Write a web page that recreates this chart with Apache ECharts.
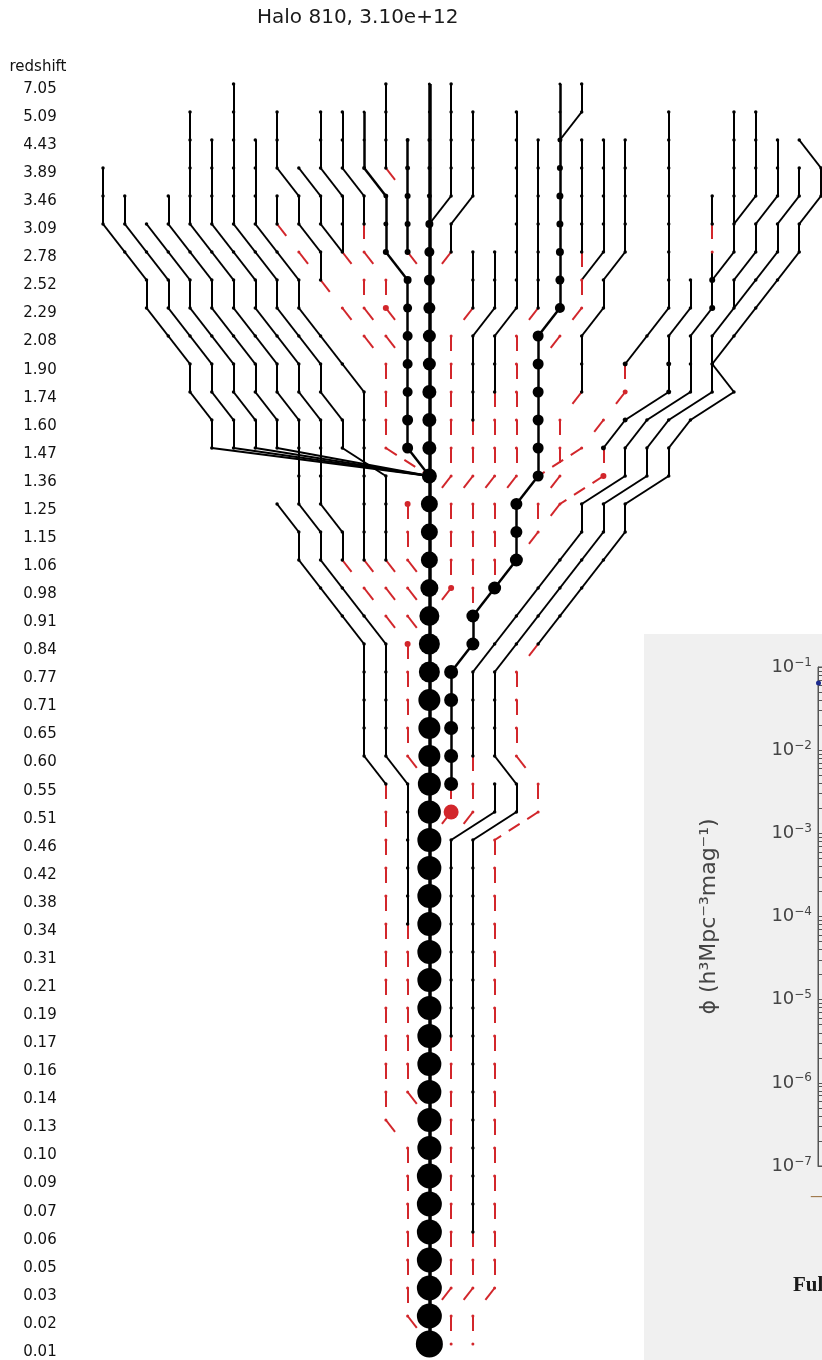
<!DOCTYPE html>
<html>
<head>
<meta charset="utf-8">
<script src="https://cdn.jsdelivr.net/npm/echarts@6/dist/echarts.min.js"></script>
<style>
html, body { margin: 0; padding: 0; background: #ffffff; }
#chart { width: 822px; height: 1360px; }
</style>
</head>
<body>
<div id="chart"></div>
<script>
// Snapshot redshifts, one per row of the tree (top = earliest)
const redshifts = ['7.05','5.09','4.43','3.89','3.46','3.09','2.78','2.52','2.29','2.08','1.90','1.74','1.60','1.47','1.36','1.25','1.15','1.06','0.98','0.91','0.84','0.77','0.71','0.65','0.60','0.55','0.51','0.46','0.42','0.38','0.34','0.31','0.21','0.19','0.17','0.16','0.14','0.13','0.10','0.09','0.07','0.06','0.05','0.03','0.02','0.01'];

// Each branch: first snapshot, layout column of its node at every snapshot,
// ink per node (k = solid black, r = dashed red) and optional halo mass (1e10 Msun).
const mainBranch = {
  from: 0,
  cols: [15,15,15,15,15,15,15,15,15,15, 15,15,15,15,15,15,15,15,15,15, 15,15,15,15,15,15,15,15,15,15, 15,15,15,15,15,15,15,15,15,15, 15,15,15,15,15,15],
  ink: 'kkkkkkkkkk' + 'kkkkkkkkkk' + 'kkkkkkkkkk' + 'kkkkkkkkkk' + 'kkkkkk',
  mass: [0.42,0.42,1,1,1.95, 8,15.6,20.8,27,34.3,34.3,42.9,42.9,42.9,52.7, 76.8,76.8,76.8,91,125,145,145,166,166,166, 190,190, 216,216,216,216,216,216,216,216,216,216,216,216, 244,244,244,244,244,244, 310]
};

const leftFan = [
  { from: 3, cols: [0,0,0,1,2,2,3,4,4,5,5,15], ink: 'kkkkkkkkkkkk' },
  { from: 4, cols: [1,1,2,3,3,4,5,5,6,6,15], ink: 'kkkkkkkkkkk' },
  { from: 5, cols: [2,3,4,4,5,6,6,7,7,15], ink: 'kkkkkkkkkk' },
  { from: 4, cols: [3,3,4,5,5,6,7,7,8,8,15], ink: 'kkkkkkkkkkk' },
  { from: 1, cols: [4,4,4,4,4,5,6,6,7,8,8,9,9,9,9,10,10,11,12,13,13,13,13,13,14,14,14,14,14,14,14,14,14,14,14,14,15],
    ink: 'kkkkkkkkkk' + 'kkkkkkkkkk' + 'kkkkkkkkkk' + 'rrrrrrr' },
  { from: 2, cols: [5,5,5,5,6,7,7,8,9,9,10,10,10,10,11,11,12,13,14,14,14,14,14,15],
    ink: 'kkkkkkkkkk' + 'kkkkkk' + 'rrrrrrrr',
    mass: [null,null,null,null,null,null,null,null,null,null,null,null,null,null,null,null,null,null,3.4] },
  { from: 0, cols: [6,6,6,6,6,6,7,8,8,9,10,10,11,11,13,13,13,13,14,15], ink: 'kkkkkkkkkk' + 'kkkkkkkk' + 'rr' },
  { from: 2, cols: [7,7,7,7,8,9,9,10,11,12,12,12,12,12,12,12,13,14,15], ink: 'kkkkkkkkkk' + 'kkkkkk' + 'rrr' }
];

const innerLeft = [
  { from: 0, cols: [13,13,13,13,14], ink: 'kkkkr' },
  { from: 2, cols: [14,14,14,14,14,15], ink: 'kkkkkr', mass: [1,1.95,3.4,3.4,3.4], chain: true },
  { from: 1, cols: [12,12,12,13,13,13,14,14,14,14,14,14,14,15], ink: 'kkkkkkkkkkkkkk',
    mass: [0.42,0.42,1,1.95,1.95,3.4,8,11.4,15.6,15.6,15.6,20.8,20.8], chain: true },
  { from: 1, cols: [11,11,11,12,12,12,13,13,14], ink: 'kkkkkrrrr', mass: [null,null,null,null,null,null,null,3.4] },
  { from: 1, cols: [10,10,10,11,11,11,12,12,13,14], ink: 'kkkkkkrrrr' },
  { from: 3, cols: [9,10,10,11], ink: 'kkkk' },
  { from: 1, cols: [8,8,8,9,9,10,10,11,12,13,13,13,13,15], ink: 'kkkkkkkrrrrrrr' },
  { from: 4, cols: [8,8,9,10], ink: 'kkrr' },
  { from: 15, cols: [14,14,14,15], ink: 'rrrr', mass: [3.4] }
];

const lowerLeft = [
  { from: 15, cols: [8,9,9,10,11,12,12,12,12,12,13,13,13,13,13,13,13,13,13,13,13,13,13,14,14,14,14,14,14,14,15],
    ink: 'kkkkkkkkkkk' + 'rrrrrrrrrr' + 'rrrrrrrrrr' }
];

const innerRight = [
  { from: 0, cols: [16,16,16,16,16,15], ink: 'kkkkkk' },
  { from: 1, cols: [17,17,17,17,16,16,15], ink: 'kkkkkkr' },
  { from: 6, cols: [17,17,17,16,16,16,16,16,16,15], ink: 'kkkrrrrrrr' },
  { from: 6, cols: [18,18,18,17,17,17,17,17,17,16,16,16,16,15], ink: 'kkkkkkkrrrrrrr',
    mass: [null,null,null,null,null,null,null,null,null,null,null,null,3.4] },
  { from: 1, cols: [19,19,19,19,19,19,19,19,18,18,18,18,18,18,17,17,17,17,17], ink: 'kkkkkkkkkkk' + 'rrrrrrrr' },
  { from: 2, cols: [20,20,20,20,20,20,20,19,19,19,19,19,19,18,18,18,18], ink: 'kkkkkkk' + 'rrrrrrrrrr' },
  { from: 0, cols: [21,21,21,21,21,21,21,21,21,20,20,20,20,20,20,19,19,19,18,17,17,16,16,16,16,16,16,15],
    ink: 'kkkkkkkkkk' + 'kkkkkkkkkk' + 'kkkkkk' + 'rr',
    mass: [0.42,0.42,1.95,3.4,5.4,5.4,8,11.4,15.6,20.8,20.8,20.8,20.8,20.8,20.8,27,27,34.3,34.3,34.3,34.3,42.9,42.9,42.9,42.9,42.9,52.7],
    chain: true },
  { from: 0, cols: [22,22,21], ink: 'kkk' },
  { from: 2, cols: [22,22,22,22,22,22,22,21,20], ink: 'kkkkkrrrr' }
];

const rightFan = [
  { from: 2, cols: [23,23,23,23,23,22], ink: 'kkkkkk' },
  { from: 2, cols: [24,24,24,24,24,23,23,22,22,22,21,21,21,20,20,19], ink: 'kkkkkkkkkk' + 'rrrrrr' },
  { from: 1, cols: [26,26,26,26,26,26,26,26,25,24,24,23,22,20], ink: 'kkkkkkkkkk' + 'rrrr',
    mass: [null,null,null,null,null,null,null,null,null,1.95,1.95] },
  { from: 7, cols: [27,27,26,26,26,24,23,23,21,20], ink: 'kkkkkkk' + 'rrr', mass: [null,null,null,1.95,1.95,1.95,1.95,3.4] },
  { from: 4, cols: [28,28,28,28,28,27,27,27,25,24,24,22,22,21,20,19,18,17,17,17,17,17,17,16],
    ink: 'kkrkk' + 'kkkkkkkkkkkkkkkk' + 'rrr', mass: [null,null,null,3.4,3.4] },
  { from: 1, cols: [29,29,29,29,29,29,28], ink: 'kkkkkkk' },
  { from: 1, cols: [30,30,30,30,29], ink: 'kkkkk' },
  { from: 2, cols: [31,31,31,30,30,29,29,28,28,28,26,25,25,23,23,22,21,20,19,18,18,18,18,19,19,17,
                    17,17,17,17,17,17,17,17,17,17,17,17,17,17,17,17,16,16],
    ink: 'kkkkkkkkkk' + 'kkkkkkkkkk' + 'kkkkkkkkkk' + 'kkkkkkkkkk' + 'rrrr' },
  { from: 3, cols: [32,32,31,31,30,29], ink: 'kkkkkk' },
  { from: 2, cols: [32,33,33,32,32,31,30,29,28,29,27,26,26,24,24,23,22,21,20,19,19,19,19,20,20,18,
                    18,18,18,18,18,18,18,18,18,18,18,18,18,18,18,18,17,17],
    ink: 'kkkkkkkkkk' + 'kkkkkkkkk' + 'rrrrrrrrrr' + 'rrrrrrrrrr' + 'rrrrr' },
  { from: 25, cols: [18,18,16,16,16,16,16,16,16,16,16,16,16,16,16,16,16,16,16,15], ink: 'kkkkkkkkkk' + 'rrrrrrrrrr' }
];

// Inset luminosity-function panel: decades of the number-density axis and its one visible point
const insetDecades = [-7, -6, -5, -4, -3, -2, -1];
const insetPoints = [[0.5, 0.064]];

const INK = '#000000';
const RED = '#d2262b';

const branches = [mainBranch].concat(leftFan, innerLeft, lowerLeft, innerRight, rightFan);

// nodes that belong to a branch (a branch's final node may sit on another branch: a merger)
const owned = new Set();
branches.forEach(b => {
  b.cols.forEach((c, i) => {
    if (b === mainBranch || i < b.cols.length - 1) owned.add(c + ',' + (b.from + i));
  });
});

const solidSegs = [];
const dashSegs = [];
const smallDots = [];
const bigDots = [];

branches.forEach(b => {
  const width = b === mainBranch ? 3.5 : (b.chain ? 2.5 : 2);
  b.cols.forEach((c, i) => {
    const row = b.from + i;
    const ink = b.ink[i] || 'k';
    if (i > 0) {
      const p = [b.cols[i - 1], row - 1];
      const q = [c, row];
      if (ink === 'k') {
        solidSegs.push({ coords: [p, q], lineStyle: { width: width } });
      } else {
        const dc = Math.abs(q[0] - p[0]);
        dashSegs.push({ coords: [p, q], lineStyle: { width: 2, type: dc >= 2 ? [13, 9] : [15, 60] } });
      }
    }
    const isLast = i === b.cols.length - 1;
    const merges = isLast && b !== mainBranch && owned.has(c + ',' + row);
    if (merges) return;
    const m = b.mass ? b.mass[i] : null;
    const color = ink === 'k' ? INK : RED;
    if (m) {
      bigDots.push({ value: [c, row, 4 * Math.cbrt(m)], itemStyle: { color: color } });
    } else {
      smallDots.push({ value: [c, row, ink === 'k' ? 3.5 : 3], itemStyle: { color: color } });
    }
  });
});

// minor ticks of the logarithmic inset axis, as decimal exponents
const minorLogTicks = [];
insetDecades.slice(0, -1).forEach(d => {
  [2, 3, 4, 5, 6, 7, 8, 9].forEach(k => minorLogTicks.push(d + Math.log10(k)));
});

const FONT = 'DejaVu Sans';

const chart = echarts.init(document.getElementById('chart'), null, { renderer: 'canvas' });
chart.setOption({
  animation: false,
  backgroundColor: '#ffffff',
  title: [
    { text: 'Halo 810, 3.10e+12', left: 257, top: 8, padding: 0,
      textStyle: { fontFamily: FONT, fontSize: 20, fontWeight: 'normal', color: '#1a1a1a' } },
    { text: 'Full', left: 793, top: 1275, padding: 0,
      textStyle: { fontFamily: 'Liberation Serif', fontSize: 21, fontWeight: 'bold', color: '#1a1a1a' } },
    { text: '\u2014', left: 810, top: 1189, padding: 0,
      textStyle: { fontFamily: FONT, fontSize: 16, fontWeight: 'normal', color: '#a07a4e' } }
  ],
  graphic: [
    { type: 'rect', left: 644, top: 634, z: -100, silent: true,
      shape: { width: 178, height: 726 }, style: { fill: '#f0f0f0' } }
  ],
  grid: [
    { left: 103, right: 1, top: 84, bottom: 16 },
    { left: 58, width: 1, top: 89, bottom: 8 },
    { left: 818, width: 40, top: 667, height: 499, show: true, borderColor: '#555', borderWidth: 1, backgroundColor: 'transparent' }
  ],
  xAxis: [
    { gridIndex: 0, type: 'value', min: 0, max: 33, show: false },
    { gridIndex: 1, type: 'value', show: false },
    { gridIndex: 2, type: 'value', min: 0, max: 10,
      axisLine: { show: true, lineStyle: { color: '#555' } },
      axisTick: { show: true, inside: true, length: 6, customValues: [0.7], lineStyle: { color: '#555' } },
      axisLabel: { show: false }, splitLine: { show: false } }
  ],
  yAxis: [
    { gridIndex: 0, type: 'value', min: 0, max: 45, inverse: true, show: false },
    { gridIndex: 1, type: 'category', data: redshifts, inverse: true, boundaryGap: false,
      axisLine: { show: false }, axisTick: { show: false }, splitLine: { show: false },
      axisLabel: { fontFamily: FONT, fontSize: 15, color: '#111', align: 'center', margin: 18, interval: 0 },
      name: 'redshift', nameLocation: 'start', nameGap: 14,
      nameTextStyle: { fontFamily: FONT, fontSize: 15, color: '#111', align: 'center', padding: [0, 40, 0, 0] } },
    { gridIndex: 2, type: 'log', logBase: 10, min: 1e-7, max: 1e-1, splitNumber: 6, position: 'left',
      axisLine: { show: true, lineStyle: { color: '#555' } },
      axisTick: { show: true, inside: true, length: 9, lineStyle: { color: '#555' } },
      splitLine: { show: false },
      axisLabel: {
        margin: 6, color: '#444',
        formatter: v => '{b|10}{s|\u2212' + Math.abs(Math.round(Math.log10(v))) + '}',
        rich: {
          b: { fontFamily: FONT, fontSize: 18, color: '#444' },
          s: { fontFamily: FONT, fontSize: 12, color: '#444', padding: [0, 0, 9, 0] }
        }
      },
      name: '\u03d5 (h\u00b3Mpc\u207b\u00b3mag\u207b\u00b9)', nameLocation: 'middle', nameGap: 98,
      nameTextStyle: { fontFamily: FONT, fontSize: 22, color: '#444' } },
    { gridIndex: 2, type: 'value', min: -7, max: -1, position: 'left', offset: 0,
      axisLine: { show: false }, axisLabel: { show: false }, splitLine: { show: false },
      axisTick: { show: true, inside: true, length: 4, customValues: minorLogTicks, lineStyle: { color: '#555' } } }
  ],
  series: [
    { type: 'lines', coordinateSystem: 'cartesian2d', xAxisIndex: 0, yAxisIndex: 0,
      polyline: false, large: false, clip: false, silent: true,
      lineStyle: { color: RED, width: 2, opacity: 1 }, data: dashSegs, z: 2 },
    { type: 'lines', coordinateSystem: 'cartesian2d', xAxisIndex: 0, yAxisIndex: 0,
      polyline: false, large: false, clip: false, silent: true,
      lineStyle: { color: INK, width: 2, opacity: 1 }, data: solidSegs, z: 3 },
    { type: 'scatter', xAxisIndex: 0, yAxisIndex: 0, symbol: 'circle', clip: false, silent: true,
      itemStyle: { opacity: 1 }, symbolSize: v => v[2], data: smallDots, z: 4 },
    { type: 'scatter', xAxisIndex: 0, yAxisIndex: 0, symbol: 'circle', clip: false, silent: true,
      itemStyle: { opacity: 1 }, symbolSize: v => v[2], data: bigDots, z: 5 },
    { type: 'scatter', xAxisIndex: 2, yAxisIndex: 2, symbol: 'circle', symbolSize: 5, silent: true,
      itemStyle: { color: '#1d2b8f', opacity: 1 }, data: insetPoints, z: 6 }
  ]
});
</script>
</body>
</html>
